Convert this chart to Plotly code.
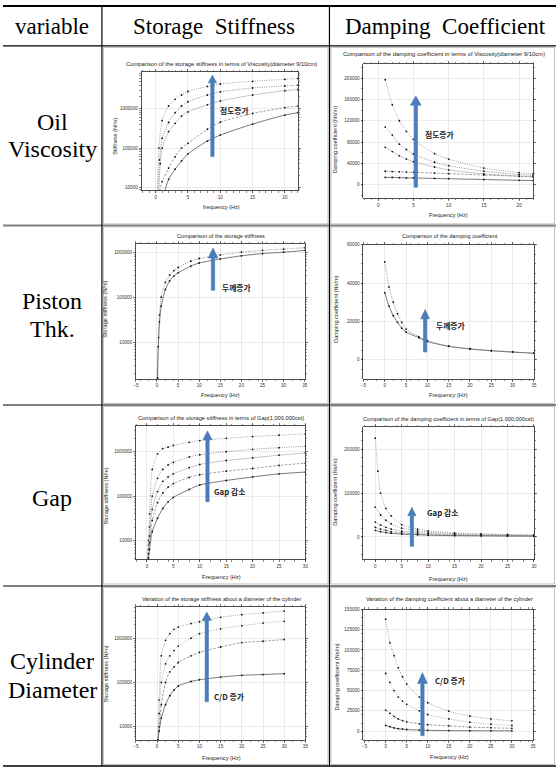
import plotly.graph_objects as go

W, H = 559, 768

# ---------------- DATA ----------------
# Row 1: Oil viscosity
visc_K_freq = [
    [0.25, 0.5, 1, 2, 3, 4, 5, 8, 10, 15, 20, 22],
    [0.35, 0.6, 1, 2, 3, 4, 5, 8, 10, 15, 20, 22],
    [0.45, 0.7, 1, 2, 3, 4, 5, 8, 10, 15, 20, 22],
    [0.6, 1, 2, 3, 4, 5, 8, 10, 15, 20, 22],
    [1.4, 2, 3, 4, 5, 8, 10, 15, 20, 22],
]
visc_K = [
    [8000, 100000, 500000, 1175000, 1740000, 2240000, 2750000, 3700000, 4270000, 5000000, 5620000, 5890000],
    [8000, 50000, 178000, 447000, 794000, 1175000, 1510000, 2240000, 2690000, 3390000, 3800000, 3980000],
    [8000, 40000, 100000, 263000, 427000, 646000, 832000, 1260000, 1580000, 2240000, 2880000, 3090000],
    [8000, 14000, 31000, 60000, 100000, 132000, 302000, 457000, 759000, 1070000, 1170000],
    [8000, 16000, 29000, 47000, 71000, 151000, 214000, 407000, 692000, 794000],
]
visc_C_freq = [1, 2, 3, 4, 5, 8, 10, 15, 20, 22]
visc_C = [
    [197000, 150000, 120000, 100000, 85000, 58000, 48000, 31000, 22500, 20000],
    [108000, 93000, 76000, 66000, 57500, 42000, 35500, 25000, 19000, 17500],
    [70000, 62000, 54000, 48000, 43000, 33000, 27500, 20000, 16000, 15000],
    [25000, 24500, 24000, 23500, 23000, 21500, 20500, 18000, 15500, 14500],
    [13500, 13500, 13000, 12500, 12500, 11500, 11000, 9500, 8000, 7500],
]

# Row 2: Piston thickness
pist_K_freq = [
    [0.2, 0.4, 0.6, 1, 2, 3, 4, 5, 8, 10, 15, 20, 25, 30, 35],
    [0.1, 0.3, 0.6, 1, 2, 3, 4, 5, 8, 10, 15, 20, 25, 30, 35],
]
pist_K = [
    [1580, 12600, 39800, 100000, 214000, 309000, 389000, 457000, 631000, 724000, 871000, 1000000, 1096000, 1175000, 1259000],
    [1580, 7940, 28200, 63100, 148000, 229000, 295000, 347000, 490000, 575000, 708000, 832000, 933000, 1000000, 1096000],
]
pist_C_freq = [0, 1, 2, 3, 4, 5, 8, 10, 15, 20, 25, 30, 35]
pist_C = [
    [51000, 38000, 30000, 24000, 19500, 16000, 12000, 10000, 7200, 5800, 4800, 4200, 3500],
    [35000, 28000, 23000, 19500, 16500, 14500, 11500, 9500, 7000, 5600, 4700, 4000, 3400],
]

# Row 3: Gap
gap_K_freq = [0.1, 0.3, 0.5, 1, 2, 3, 4, 5, 8, 10, 15, 20, 25, 30]
gap_K = [
    [3160, 10000, 39800, 398000, 891000, 1175000, 1259000, 1380000, 1622000, 1778000, 1995000, 2188000, 2344000, 2512000],
    [3160, 7940, 20000, 100000, 251000, 398000, 501000, 575000, 759000, 851000, 1000000, 1120000, 1230000, 1318000],
    [3160, 6310, 12600, 50100, 126000, 214000, 269000, 316000, 437000, 513000, 631000, 724000, 832000, 933000],
    [3160, 5010, 8910, 28200, 70800, 117000, 158000, 191000, 263000, 302000, 363000, 417000, 490000, 550000],
    [3160, 3980, 6310, 15800, 31600, 52500, 74100, 93300, 141000, 178000, 224000, 269000, 316000, 347000],
]
gap_C_freq = [
    [0, 0.5, 1, 2, 3, 5, 8, 10, 15, 20, 25, 30],
    [0, 1, 2, 3, 5, 8, 10, 15, 20, 25, 30],
    [0, 1, 2, 3, 5, 8, 10, 15, 20, 25, 30],
    [0, 1, 2, 3, 5, 8, 10, 15, 20, 25, 30],
    [0, 1, 2, 3, 5, 8, 10, 15, 20, 25, 30],
]
gap_C = [
    [225000, 150000, 100000, 65000, 48000, 28000, 18000, 14000, 9000, 7000, 5500, 4500],
    [68000, 50000, 38000, 30000, 20000, 13500, 11000, 7500, 6000, 5000, 4000],
    [34000, 27000, 22000, 18000, 13000, 9500, 8000, 5500, 4500, 3700, 3000],
    [22000, 18000, 15000, 12000, 9000, 6500, 5500, 4000, 3200, 2700, 2200],
    [15000, 12000, 10000, 8500, 6500, 5000, 4000, 3000, 2500, 2100, 1800],
]

# Row 4: Cylinder diameter
cyl_K_freq = [0.2, 0.5, 1, 2, 3, 4, 5, 8, 10, 15, 20, 25, 30]
cyl_K = [
    [5010, 39800, 398000, 891000, 1259000, 1585000, 1778000, 2138000, 2344000, 2951000, 3388000, 3715000, 4074000],
    [5010, 20000, 100000, 263000, 398000, 525000, 661000, 1000000, 1259000, 1622000, 1905000, 2188000, 2399000],
    [5010, 10000, 31600, 100000, 174000, 224000, 282000, 398000, 479000, 631000, 794000, 851000, 933000],
    [5010, 7940, 15800, 31600, 50100, 67600, 83200, 105000, 115000, 132000, 145000, 151000, 158000],
]
cyl_C_freq = [0, 1, 2, 3, 4, 5, 8, 10, 15, 20, 25, 30]
cyl_C = [
    [138000, 109000, 93000, 78000, 67000, 58000, 42000, 35000, 24600, 18500, 15000, 12700],
    [71000, 60000, 50000, 42000, 37000, 33000, 25000, 20500, 15000, 11000, 8500, 7000],
    [26000, 22000, 18000, 15000, 13000, 11500, 9000, 8000, 6500, 5000, 4200, 3500],
    [7000, 5500, 4000, 3000, 2500, 2000, 1300, 1000, 700, 500, 450, 400],
]

# Tick labels
log_ticks = [10000, 100000, 1000000]
log_tick_labels = ["10000", "100000", "1000000"]
log_minor_ticks = [k * 10 ** e for e in range(3, 7) for k in range(2, 10)]
x_ticks_20 = [0, 5, 10, 15, 20]
x_ticks_30 = [0, 5, 10, 15, 20, 25, 30]
x_ticks_35 = [-5, 0, 5, 10, 15, 20, 25, 30, 35]
y_ticks_visc_C = [0, 40000, 80000, 120000, 160000, 200000]
y_ticks_pist_C = [0, 20000, 40000, 60000]
y_ticks_gap_C = [0, 100000, 200000]
y_ticks_cyl_C = [0, 25000, 50000, 75000, 100000, 125000, 150000]

# Texts
header_texts = ["variable", "Storage  Stiffness", "Damping  Coefficient"]
row_texts = [["Oil", "Viscosity"], ["Piston", "Thk."], ["Gap"], ["Cylinder", "Diameter"]]
chart_titles = [
    "Comparison of the storage stiffness in terms of Viscosity(diameter 9/10cm)",
    "Comparison of the damping coefficient in terms of Viscosity(diameter 9/10cm)",
    "Comparison of the storage stiffness",
    "Comparison of the damping coefficient",
    "Comparison of the storage stiffness in terms of Gap(1,000,000cst)",
    "Comparison of the damping coefficient in terms of Gap(1,000,000cst)",
    "Variation of the storage stiffness about a diameter of the cylinder",
    "Variation of the damping coefficient about a diameter of the cylinder",
]
x_titles = ["frequency (Hz)"] + ["Frequency (Hz)"] * 7
y_titles = ["Stiffness (N/m)", "Damping coefficient (Ns/m)",
            "Storage stiffness (N/m)", "Damping coefficient (Ns/m)",
            "Storage stiffness (N/m)", "Damping coefficient (Ns/m)",
            "Storage stiffness (N/m)", "Damping coefficient (Ns/m)"]
arrow_labels = ["점도증가", "점도증가", "두께증가", "두께증가", "Gap 감소", "Gap 감소", "C/D 증가", "C/D 증가"]

# ---------------- LAYOUT GEOMETRY (pixels) ----------------
plot_rects = [  # l, t, r, b
    (140, 70, 298, 189), (364.3, 61.7, 536, 196.7),
    (134.3, 242.3, 305, 377.7), (364.3, 243.3, 536.7, 377.7),
    (134.3, 425, 305.7, 559), (364.3, 425.7, 536.7, 559),
    (134.3, 606.7, 305.7, 740), (364.3, 609, 535.7, 740),
]
x_ranges = [[-2.2, 22], [-2.1, 22], [-5, 35], [-5, 35], [-2.1, 30], [-2.25, 30], [-5, 35], [-5.3, 35]]
y_ranges = [[3.92, 6.94], [-25600, 227500], [3.185, 6.19], [-9870, 60000],
            [3.57, 6.58], [-51500, 251500], [3.70, 6.70], [-11000, 150000]]
is_log = [True, False, True, False, True, False, True, False]
x_tickvals = [x_ticks_20, x_ticks_20, x_ticks_35, x_ticks_35, x_ticks_30, x_ticks_30, x_ticks_35, x_ticks_35]
y_tickvals = [log_ticks, y_ticks_visc_C, log_ticks, y_ticks_pist_C, log_ticks, y_ticks_gap_C, log_ticks, y_ticks_cyl_C]

title_pos = [(220.7, 61.7, "center"), (342, 52.3, "left"), (220, 234.3, "center"), (451.7, 234.3, "center"),
             (220.7, 416.7, "center"), (450, 417.7, "center"), (220.7, 598.3, "center"), (451.7, 599, "center")]
title_sizes = [5.8, 5.9, 5.6, 5.6, 5.7, 5.6, 5.6, 5.6]
xt_pos = [(220.7, 206), (450, 213.3), (220, 394.3), (450, 394.3), (220.7, 576.7), (450, 578.3), (220.7, 757.7), (451.7, 757.3)]
yt_pos = [(113.3, 135), (336, 138.3), (103.3, 308.3), (337.3, 308), (104, 495), (336, 491.7), (104, 673.3), (337.3, 676.7)]
arrows = [  # x, tip, head base, bottom, head width
    (211.7, 73.3, 81, 155, 8.5), (417.3, 94.3, 103.5, 185.7, 11),
    (212.3, 246.7, 256.7, 289, 10), (426.7, 308.3, 317.7, 351, 9),
    (206.7, 430, 439, 501, 9.3), (413.3, 506.7, 515, 545.7, 8.5),
    (206, 611.7, 620, 701.7, 9.3), (424, 672.3, 683.3, 735.7, 10),
]
arrow_text_pos = [(234, 109), (441.7, 133.3), (236, 286.7), (452, 324.3),
                  (229, 491), (444, 512.3), (228, 696.7), (452.3, 680)]

def px(x):
    return x / W

def py(y):
    return 1 - y / H

DOT = "1px,1.3px"
DASH = "2.5px,1.5px"
styles5 = [("#8c8c8c", DOT), ("#777777", DOT), ("#b8b8b8", "solid"), ("#888888", DASH), ("#555555", "solid")]
styles2 = [("#7a7a7a", DOT), ("#555555", "solid")]
styles4 = [("#8c8c8c", DOT), ("#a0a0a0", DOT), ("#808080", DASH), ("#555555", "solid")]

fig = go.Figure()

def add_curves(idx, freqs, series, styles, shared_freq):
    ax = "" if idx == 0 else str(idx + 1)
    for i, vals in enumerate(series):
        f = freqs if shared_freq else freqs[i]
        col, dash = styles[i]
        fig.add_trace(go.Scatter(
            x=f, y=vals, mode="lines+markers",
            line=dict(color=col, width=0.8, dash=dash, shape="spline", smoothing=0.7),
            marker=dict(size=1.8, color="#111"),
            xaxis="x" + ax, yaxis="y" + ax, showlegend=False, hoverinfo="skip", cliponaxis=True,
        ))

add_curves(0, visc_K_freq, visc_K, styles5, False)
add_curves(1, visc_C_freq, visc_C, styles5, True)
add_curves(2, pist_K_freq, pist_K, styles2, False)
add_curves(3, pist_C_freq, pist_C, styles2, True)
add_curves(4, gap_K_freq, gap_K, styles5, True)
add_curves(5, gap_C_freq, gap_C, styles5, False)
add_curves(6, cyl_K_freq, cyl_K, styles4, True)
add_curves(7, cyl_C_freq, cyl_C, styles4, True)

layout = dict(
    width=W, height=H, margin=dict(l=0, r=0, t=0, b=0),
    paper_bgcolor="white", plot_bgcolor="white", showlegend=False,
)

tickfont = dict(family="Liberation Sans", size=4.6, color="#333")
minor_common = dict(ticks="outside", ticklen=1.2, tickwidth=0.5, tickcolor="#222", showgrid=False)
for i in range(8):
    l, t, r, b = plot_rects[i]
    key = "" if i == 0 else str(i + 1)
    common = dict(showline=True, linecolor="#222", linewidth=0.8, mirror="ticks",
                  ticks="outside", ticklen=2, tickwidth=0.6, tickcolor="#222",
                  tickfont=tickfont, showgrid=True, gridcolor="#e3e3e3", gridwidth=0.7,
                  zeroline=False, fixedrange=True)
    xa = dict(common, domain=[px(l), px(r)], range=x_ranges[i], tickmode="array",
              tickvals=x_tickvals[i], anchor="y" + key, tickformat="d", minor=minor_common)
    ya = dict(common, domain=[py(b), py(t)], range=y_ranges[i], tickmode="array",
              tickvals=y_tickvals[i], anchor="x" + key)
    if is_log[i]:
        ya.update(type="log", ticktext=log_tick_labels,
                  minor=dict(minor_common, tickmode="array", tickvals=log_minor_ticks))
    else:
        ya.update(tickformat="d", minor=minor_common)
    layout["xaxis" + key] = xa
    layout["yaxis" + key] = ya

annotations = []
serif = "Liberation Serif"
sans = "Liberation Sans"
# Header
for txt, cx in zip(header_texts, [50, 213, 447]):
    annotations.append(dict(text=txt, x=px(cx), y=py(25), xref="paper", yref="paper",
                            showarrow=False, xanchor="center", yanchor="middle",
                            font=dict(family=serif, size=23, color="black")))
row_y = [[120, 147], [300, 328], [497], [661, 690]]
for lines, ys in zip(row_texts, row_y):
    for txt, yy in zip(lines, ys):
        annotations.append(dict(text=txt, x=px(50), y=py(yy), xref="paper", yref="paper",
                                showarrow=False, xanchor="center", yanchor="middle",
                                font=dict(family=serif, size=24, color="black")))
for i in range(8):
    tx, ty, anc = title_pos[i]
    annotations.append(dict(text=chart_titles[i], x=px(tx), y=py(ty), xref="paper", yref="paper",
                            showarrow=False, xanchor=anc, yanchor="middle",
                            font=dict(family=sans, size=title_sizes[i], color="#222")))
    annotations.append(dict(text=x_titles[i], x=px(xt_pos[i][0]), y=py(xt_pos[i][1]), xref="paper", yref="paper",
                            showarrow=False, xanchor="center", yanchor="middle",
                            font=dict(family=sans, size=5.6, color="#222")))
    annotations.append(dict(text=y_titles[i], x=px(yt_pos[i][0]), y=py(yt_pos[i][1]), xref="paper", yref="paper",
                            showarrow=False, xanchor="center", yanchor="middle", textangle=-90,
                            font=dict(family=sans, size=5.6, color="#222")))
    annotations.append(dict(text="<b>" + arrow_labels[i] + "</b>", x=px(arrow_text_pos[i][0]), y=py(arrow_text_pos[i][1]),
                            xref="paper", yref="paper", showarrow=False, xanchor="center", yanchor="middle",
                            font=dict(family="Noto Sans CJK KR", size=7.8, color="#222")))
layout["annotations"] = annotations

shapes = []
def hline(y, color, w):
    shapes.append(dict(type="line", xref="paper", yref="paper", x0=0, x1=1, y0=py(y), y1=py(y),
                       line=dict(color=color, width=w)))
hline(4, "black", 2)
hline(44, "black", 1.2)
for yy in [224, 404, 585.5]:
    hline(yy, "#7f7f7f", 2)
hline(766, "black", 1.5)
for xx in [100, 330]:
    shapes.append(dict(type="line", xref="paper", yref="paper", x0=px(xx), x1=px(xx), y0=py(4), y1=py(766),
                       line=dict(color="black", width=1.2)))
# image frames of embedded charts
for (x0, y0, x1, y1) in [(101.5, 45.5, 328.5, 222.5), (331.5, 45.5, 557.5, 222.5),
                         (101.5, 225.5, 328.5, 402.5), (331.5, 225.5, 557.5, 402.5),
                         (101.5, 405.5, 328.5, 583.5), (331.5, 405.5, 557.5, 583.5),
                         (101.5, 587, 328.5, 764.5), (331.5, 587, 557.5, 764.5)]:
    shapes.append(dict(type="rect", xref="paper", yref="paper", x0=px(x0), x1=px(x1), y0=py(y1), y1=py(y0),
                       line=dict(color="#b0b0b0", width=0.8), fillcolor="rgba(0,0,0,0)"))
# arrows
for (x, tip, hb, bot, hw) in arrows:
    sw = 3.4
    pts = [(x - sw / 2, bot), (x - sw / 2, hb), (x - hw / 2, hb), (x, tip),
           (x + hw / 2, hb), (x + sw / 2, hb), (x + sw / 2, bot)]
    path = "M " + " L ".join(f"{px(a):.5f},{py(b):.5f}" for a, b in pts) + " Z"
    shapes.append(dict(type="path", xref="paper", yref="paper", path=path,
                       fillcolor="#4A7EBB", line=dict(color="#3E6FA8", width=0.5), layer="above"))
layout["shapes"] = shapes

fig.update_layout(**layout)
fig.write_html("out.html", config={"displayModeBar": False, "staticPlot": True},
               post_script="document.body.style.margin='0px';document.body.style.overflow='hidden';")
